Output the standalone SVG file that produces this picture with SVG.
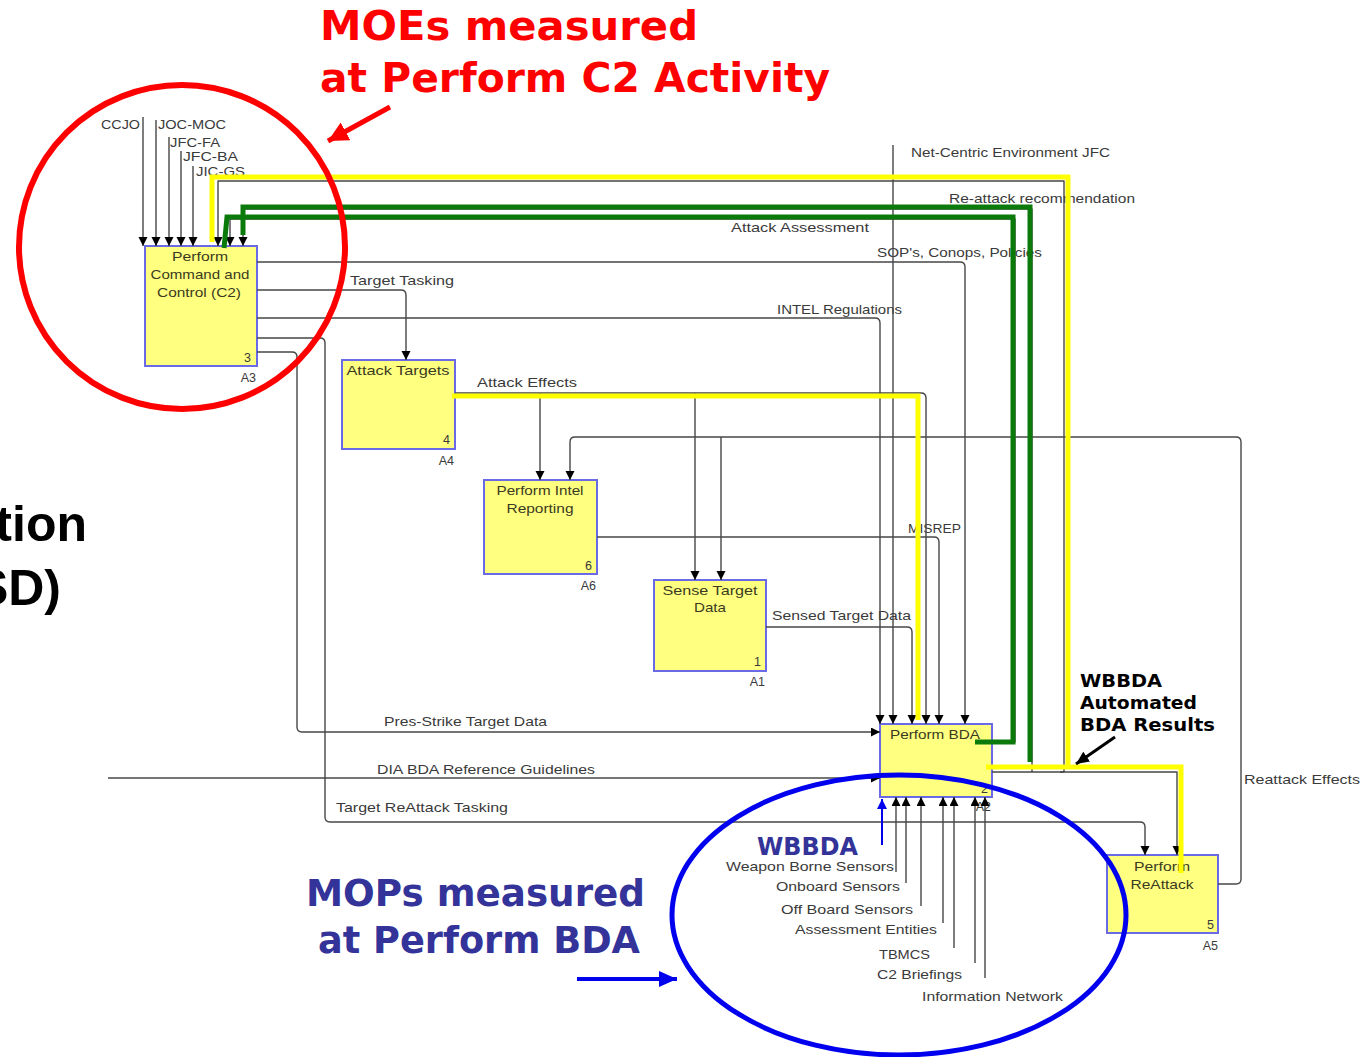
<svg xmlns="http://www.w3.org/2000/svg" width="1363" height="1057" viewBox="0 0 1363 1057">
  <defs>
    <style>
      .lbl { font-family: "Liberation Sans", Arial, sans-serif; font-size: 13.5px; fill: #3a3a3a; }
      .num { font-family: "Liberation Sans", Arial, sans-serif; font-size: 12.5px; fill: #3a3a3a; }
      .btxt { font-family: "Liberation Sans", Arial, sans-serif; font-size: 13.5px; fill: #3a3a20; text-anchor: middle; }
      .box { fill: #FFFF80; stroke: #6A6AE6; stroke-width: 2; }
      .wire { fill: none; stroke: #474747; stroke-width: 1.4; stroke-linejoin: round; }
      .arr { marker-end: url(#tip); }
      .yel { fill: none; stroke: #FFFF00; stroke-width: 5; stroke-linejoin: miter; }
      .grn { fill: none; stroke: #0A7A0A; stroke-width: 5; stroke-linejoin: miter; }
      .redT { font-family: "DejaVu Sans", Verdana, sans-serif; font-weight: bold; font-size: 40px; fill: #FF0000; }
      .bluT { font-family: "DejaVu Sans", Verdana, sans-serif; font-weight: bold; font-size: 38px; fill: #333399; }
      .bluS { font-family: "DejaVu Sans", Verdana, sans-serif; font-weight: bold; font-size: 24px; fill: #333399; }
      .blkT { font-family: "DejaVu Sans", Verdana, sans-serif; font-weight: bold; font-size: 17px; fill: #000; }
      .side { font-family: "Liberation Sans", Arial, sans-serif; font-weight: bold; font-size: 50px; fill: #000; text-anchor: end; }
    </style>
    <marker id="tip" markerUnits="userSpaceOnUse" markerWidth="10" markerHeight="10" refX="9" refY="4.5" orient="auto">
      <path d="M0,0 L9,4.5 L0,9 Z" fill="#000"/>
    </marker>
    <marker id="redTip" markerUnits="userSpaceOnUse" markerWidth="24" markerHeight="24" refX="20" refY="10" orient="auto">
      <path d="M0,0 L20,10 L0,20 Z" fill="#FF0000"/>
    </marker>
    <marker id="bluTip" markerUnits="userSpaceOnUse" markerWidth="22" markerHeight="22" refX="18" refY="8" orient="auto">
      <path d="M0,0 L18,8 L0,16 Z" fill="#0000EE"/>
    </marker>
    <marker id="bluTipS" markerUnits="userSpaceOnUse" markerWidth="12" markerHeight="12" refX="10" refY="5" orient="auto">
      <path d="M0,0 L10,5 L0,10 Z" fill="#0000EE"/>
    </marker>
    <marker id="blkTip" markerUnits="userSpaceOnUse" markerWidth="16" markerHeight="16" refX="13" refY="6" orient="auto">
      <path d="M0,0 L13,6 L0,12 Z" fill="#000"/>
    </marker>
  </defs>

  <rect x="0" y="0" width="1363" height="1057" fill="#FFFFFF"/>

  <!-- slide heading fragments at the left edge -->
  <text class="side" x="87" y="541">tion</text>
  <text class="side" x="61" y="605">SD)</text>

  <!-- arrow labels -->
  <g id="labels">
    <text class="lbl" x="101" y="129" textLength="39" lengthAdjust="spacingAndGlyphs">CCJO</text>
    <text class="lbl" x="158" y="129" textLength="68" lengthAdjust="spacingAndGlyphs">JOC-MOC</text>
    <text class="lbl" x="170" y="147" textLength="50" lengthAdjust="spacingAndGlyphs">JFC-FA</text>
    <text class="lbl" x="183" y="161" textLength="55" lengthAdjust="spacingAndGlyphs">JFC-BA</text>
    <text class="lbl" x="196" y="176" textLength="49" lengthAdjust="spacingAndGlyphs">JIC-GS</text>
    <text class="lbl" x="911" y="157" textLength="199" lengthAdjust="spacingAndGlyphs">Net-Centric Environment JFC</text>
    <text class="lbl" x="949" y="203" textLength="186" lengthAdjust="spacingAndGlyphs">Re-attack recommendation</text>
    <text class="lbl" x="731" y="232" textLength="138" lengthAdjust="spacingAndGlyphs">Attack Assessment</text>
    <text class="lbl" x="877" y="257" textLength="165" lengthAdjust="spacingAndGlyphs">SOP's, Conops, Policies</text>
    <text class="lbl" x="350" y="285" textLength="104" lengthAdjust="spacingAndGlyphs">Target Tasking</text>
    <text class="lbl" x="777" y="314" textLength="125" lengthAdjust="spacingAndGlyphs">INTEL Regulations</text>
    <text class="lbl" x="477" y="387" textLength="100" lengthAdjust="spacingAndGlyphs">Attack Effects</text>
    <text class="lbl" x="908" y="533" textLength="53" lengthAdjust="spacingAndGlyphs">MISREP</text>
    <text class="lbl" x="772" y="620" textLength="139" lengthAdjust="spacingAndGlyphs">Sensed Target Data</text>
    <text class="lbl" x="384" y="726" textLength="163" lengthAdjust="spacingAndGlyphs">Pres-Strike Target Data</text>
    <text class="lbl" x="377" y="774" textLength="218" lengthAdjust="spacingAndGlyphs">DIA BDA Reference Guidelines</text>
    <text class="lbl" x="336" y="812" textLength="172" lengthAdjust="spacingAndGlyphs">Target ReAttack Tasking</text>
    <text class="lbl" x="1244" y="784" textLength="116" lengthAdjust="spacingAndGlyphs">Reattack Effects</text>
    <text class="lbl" x="726" y="871" textLength="168" lengthAdjust="spacingAndGlyphs">Weapon Borne Sensors</text>
    <text class="lbl" x="776" y="891" textLength="124" lengthAdjust="spacingAndGlyphs">Onboard Sensors</text>
    <text class="lbl" x="781" y="914" textLength="132" lengthAdjust="spacingAndGlyphs">Off Board Sensors</text>
    <text class="lbl" x="795" y="934" textLength="142" lengthAdjust="spacingAndGlyphs">Assessment Entities</text>
    <text class="lbl" x="879" y="959" textLength="51" lengthAdjust="spacingAndGlyphs">TBMCS</text>
    <text class="lbl" x="877" y="979" textLength="85" lengthAdjust="spacingAndGlyphs">C2 Briefings</text>
    <text class="lbl" x="922" y="1001" textLength="141" lengthAdjust="spacingAndGlyphs">Information Network</text>
  </g>

  <!-- activity boxes -->
  <g id="A3">
    <rect class="box" x="145" y="246" width="112" height="120"/>
    <text class="btxt" x="200" y="261" textLength="56" lengthAdjust="spacingAndGlyphs">Perform</text>
    <text class="btxt" x="200" y="279" textLength="99" lengthAdjust="spacingAndGlyphs">Command and</text>
    <text class="btxt" x="199" y="297" textLength="84" lengthAdjust="spacingAndGlyphs">Control (C2)</text>
    <text class="num" x="251" y="362" text-anchor="end">3</text>
    <text class="num" x="256" y="382" text-anchor="end">A3</text>
  </g>
  <g id="A4">
    <rect class="box" x="342" y="360" width="113" height="89"/>
    <text class="btxt" x="398" y="375" textLength="103" lengthAdjust="spacingAndGlyphs">Attack Targets</text>
    <text class="num" x="450" y="444" text-anchor="end">4</text>
    <text class="num" x="454" y="465" text-anchor="end">A4</text>
  </g>
  <g id="A6">
    <rect class="box" x="484" y="480" width="113" height="94"/>
    <text class="btxt" x="540" y="495" textLength="87" lengthAdjust="spacingAndGlyphs">Perform Intel</text>
    <text class="btxt" x="540" y="513" textLength="67" lengthAdjust="spacingAndGlyphs">Reporting</text>
    <text class="num" x="592" y="570" text-anchor="end">6</text>
    <text class="num" x="596" y="590" text-anchor="end">A6</text>
  </g>
  <g id="A1">
    <rect class="box" x="654" y="580" width="112" height="91"/>
    <text class="btxt" x="710" y="595" textLength="95" lengthAdjust="spacingAndGlyphs">Sense Target</text>
    <text class="btxt" x="710" y="612" textLength="32" lengthAdjust="spacingAndGlyphs">Data</text>
    <text class="num" x="761" y="666" text-anchor="end">1</text>
    <text class="num" x="765" y="686" text-anchor="end">A1</text>
  </g>
  <g id="A2">
    <rect class="box" x="880" y="724" width="112" height="73"/>
    <text class="btxt" x="935" y="739" textLength="90" lengthAdjust="spacingAndGlyphs">Perform BDA</text>
    <text class="num" x="988" y="793" text-anchor="end">2</text>
    <text class="num" x="991" y="811" text-anchor="end">A2</text>
  </g>
  <g id="A5">
    <rect class="box" x="1107" y="855" width="111" height="78"/>
    <text class="btxt" x="1162" y="871" textLength="56" lengthAdjust="spacingAndGlyphs">Perform</text>
    <text class="btxt" x="1162" y="889" textLength="63" lengthAdjust="spacingAndGlyphs">ReAttack</text>
    <text class="num" x="1214" y="929" text-anchor="end">5</text>
    <text class="num" x="1218" y="950" text-anchor="end">A5</text>
  </g>

  <!-- connectors -->
  <g id="connectors">
    <!-- controls into A3 -->
    <path class="wire arr" d="M143,117 V246"/>
    <path class="wire arr" d="M156,120 V246"/>
    <path class="wire arr" d="M169,137 V246"/>
    <path class="wire arr" d="M181,151 V246"/>
    <path class="wire arr" d="M193,166 V246"/>
    <!-- feedback from Perform BDA to A3 -->
    <path class="wire arr" d="M992,772 H1064 V181 H218 V246"/>
    <path class="wire arr" d="M1032,772 V209 H243 V246"/>
    <path class="wire arr" d="M992,742 H1015 V219 H230 V246"/>
    <path class="wire arr" d="M1060,772 H1177 V855"/>
    <!-- A3 outputs -->
    <path class="wire arr" d="M257,262 H960 Q965,262 965,267 V724"/>
    <path class="wire arr" d="M257,290 H401 Q406,290 406,295 V360"/>
    <path class="wire arr" d="M257,318 H875 Q880,318 880,323 V724"/>
    <path class="wire arr" d="M257,338 H320 Q325,338 325,343 V817 Q325,822 330,822 H1140 Q1145,822 1145,827 V855"/>
    <path class="wire arr" d="M257,352 H292 Q297,352 297,357 V727 Q297,732 302,732 H880"/>
    <!-- Net-Centric control -->
    <path class="wire arr" d="M893,145 V724"/>
    <!-- Attack Effects -->
    <path class="wire arr" d="M455,393 H921 Q926,393 926,398 V724"/>
    <path class="wire arr" d="M540,393 V480"/>
    <path class="wire arr" d="M695,393 V580"/>
    <!-- Reattack Effects -->
    <path class="wire arr" d="M1218,884 H1236 Q1241,884 1241,879 V442 Q1241,437 1236,437 H575 Q570,437 570,442 V480"/>
    <path class="wire arr" d="M721,437 V580"/>
    <!-- MISREP, Sensed Target Data -->
    <path class="wire arr" d="M597,537 H934 Q939,537 939,542 V724"/>
    <path class="wire arr" d="M766,627 H907 Q912,627 912,632 V724"/>
    <!-- DIA guidelines -->
    <path class="wire arr" d="M108,778 H880"/>
    <!-- mechanisms into Perform BDA -->
    <path class="wire arr" d="M896,872 V797"/>
    <path class="wire arr" d="M906,883 V797"/>
    <path class="wire arr" d="M921,906 V797"/>
    <path class="wire arr" d="M943,923 V797"/>
    <path class="wire arr" d="M954,948 V797"/>
    <path class="wire arr" d="M975,963 V797"/>
    <path class="wire arr" d="M985,978 V797"/>

    <!-- highlighted paths -->
    <path class="yel" d="M212,242 V177 H1068 V767"/>
    <path class="yel" d="M986,767 H1181 V873"/>
    <path class="yel" d="M452,396 H918 V720"/>
    <path class="grn" d="M1030,762 V207 H243 V235"/>
    <path class="grn" d="M975,742 H1013 V217 H227 L224,248"/>
  </g>

  <!-- annotations -->
  <g id="moe-note">
    <ellipse cx="182" cy="247" rx="163" ry="162" fill="none" stroke="#FF0000" stroke-width="6"/>
    <line x1="390" y1="107" x2="328" y2="141" stroke="#FF0000" stroke-width="5" marker-end="url(#redTip)"/>
    <text class="redT" x="320" y="40" textLength="378" lengthAdjust="spacingAndGlyphs">MOEs measured</text>
    <text class="redT" x="320" y="92" textLength="510" lengthAdjust="spacingAndGlyphs">at Perform C2 Activity</text>
  </g>
  <g id="mop-note">
    <ellipse cx="899" cy="915" rx="227" ry="140" fill="none" stroke="#0000EE" stroke-width="5"/>
    <line x1="577" y1="979" x2="677" y2="979" stroke="#0000EE" stroke-width="4" marker-end="url(#bluTip)"/>
    <text class="bluT" x="306" y="906" textLength="339" lengthAdjust="spacingAndGlyphs">MOPs measured</text>
    <text class="bluT" x="318" y="953" textLength="322" lengthAdjust="spacingAndGlyphs">at Perform BDA</text>
    <line x1="882" y1="845" x2="882" y2="799" stroke="#0000EE" stroke-width="2" marker-end="url(#bluTipS)"/>
    <text class="bluS" x="757" y="855" textLength="101" lengthAdjust="spacingAndGlyphs">WBBDA</text>
  </g>
  <g id="wbbda-note">
    <text class="blkT" x="1080" y="687" textLength="82" lengthAdjust="spacingAndGlyphs">WBBDA</text>
    <text class="blkT" x="1080" y="709" textLength="117" lengthAdjust="spacingAndGlyphs">Automated</text>
    <text class="blkT" x="1080" y="731" textLength="135" lengthAdjust="spacingAndGlyphs">BDA Results</text>
    <line x1="1115" y1="737" x2="1076" y2="764" stroke="#000" stroke-width="3" marker-end="url(#blkTip)"/>
  </g>
</svg>
